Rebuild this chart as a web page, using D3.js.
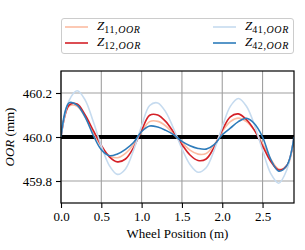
<!DOCTYPE html>
<html>
<head>
<meta charset="utf-8">
<script src="https://cdn.jsdelivr.net/npm/d3@7"></script>
<style>
  body { margin: 0; background: #fff; }
  text { font-family: "Liberation Serif", serif; }
</style>
</head>
<body>
<div id="graphic"></div>
<script>
const pos = [0.0, 0.1, 0.2, 0.3, 0.4, 0.5, 0.6, 0.7, 0.8, 0.9, 1.0, 1.1, 1.2, 1.3, 1.4,
    1.5, 1.6, 1.7, 1.8, 1.9, 2.0, 2.1, 2.2, 2.3, 2.4, 2.5, 2.6, 2.7, 2.8, 2.89]

const z11 = [460.00, 460.14, 460.14, 460.09, 460.02, 459.958, 459.915, 459.906, 459.926, 459.966,
    460.025, 460.07, 460.071, 460.05, 460.012, 459.975, 459.94, 459.922, 459.925, 459.965,
    460.025, 460.07, 460.086, 460.07, 460.03, 459.97, 459.90, 459.855, 459.865, 460.00]
const z12 = [460.00, 460.145, 460.15, 460.10, 460.03, 459.962, 459.91, 459.887, 459.90, 459.952,
    460.03, 460.099, 460.10, 460.07, 460.02, 459.966, 459.918, 459.893, 459.90, 459.954,
    460.031, 460.092, 460.105, 460.079, 460.03, 459.96, 459.89, 459.85, 459.87, 460.00]
const z41 = [460.00, 460.165, 460.21, 460.168, 460.07, 459.96, 459.87, 459.83, 459.855, 459.94,
    460.05, 460.143, 460.155, 460.113, 460.035, 459.947, 459.875, 459.84, 459.86, 459.94,
    460.045, 460.139, 460.175, 460.14, 460.054, 459.94, 459.835, 459.79, 459.85, 460.00]
const z42 = [460.00, 460.155, 460.145, 460.09, 460.008, 459.942, 459.915, 459.923, 459.944, 459.975,
    460.025, 460.05, 460.045, 460.03, 460.01, 459.98, 459.96, 459.948, 459.945, 459.965,
    460.01, 460.04, 460.07, 460.085, 460.06, 460.00, 459.90, 459.845, 459.87, 460.00]

const seriesNames = ["11", "12", "41", "42"]
const xTickVals = [0.0, 0.5, 1.0, 1.5, 2.0, 2.5]
const yTickVals = [459.8, 460.0, 460.2]

const margin = { top: 71, right: 11, bottom: 47, left: 61 },
    width = 305 - margin.left - margin.right,
    height = 250 - margin.top - margin.bottom;

const svg = d3.select("#graphic")
    .append("svg")
    .attr("width", 305)
    .attr("height", 250)

const g = svg.append("g")
    .attr("transform", `translate(${margin.left},${margin.top})`);

const x = d3.scaleLinear().domain([0, 2.89]).range([0, width])
const y = d3.scaleLinear().domain([459.7, 460.3]).range([height, 0])

// grid
g.append("g")
    .selectAll("line")
    .data(xTickVals)
    .join("line")
    .attr("x1", d => x(d)).attr("x2", d => x(d))
    .attr("y1", 0).attr("y2", height)
    .attr("stroke", "#a0a0a0")
    .attr("stroke-width", 1.1)
g.append("g")
    .selectAll("line")
    .data(yTickVals)
    .join("line")
    .attr("y1", d => y(d)).attr("y2", d => y(d))
    .attr("x1", 0).attr("x2", width)
    .attr("stroke", "#a0a0a0")
    .attr("stroke-width", 1.1)

g.append("defs").append("clipPath").attr("id", "clip")
    .append("rect").attr("width", width).attr("height", height)

const plot = g.append("g").attr("clip-path", "url(#clip)")

// reference line
plot.append("line")
    .attr("x1", 0).attr("x2", width)
    .attr("y1", y(460)).attr("y2", y(460))
    .attr("stroke", "#000")
    .attr("stroke-width", 4)

const color = d3.scaleOrdinal()
    .domain(seriesNames)
    .range(["#fcbba1", "#d42027", "#c6dbef", "#2d7bba"])

const values = { "11": z11, "12": z12, "41": z41, "42": z42 }

const line = d3.line()
    .x((d, i) => x(pos[i]))
    .y(d => y(d))
    .curve(d3.curveCatmullRom.alpha(0.5))

plot.selectAll(".series")
    .data(seriesNames)
    .join("path")
    .attr("class", "series")
    .attr("fill", "none")
    .attr("stroke", d => color(d))
    .attr("stroke-width", 1.6)
    .attr("d", d => line(values[d]))

// axes
const xAxis = g.append("g")
    .attr("transform", `translate(0, ${height})`)
    .call(d3.axisBottom(x).tickValues(xTickVals).tickFormat(d3.format(".1f")).tickSizeOuter(0).tickSize(5).tickPadding(4))
const yAxis = g.append("g")
    .call(d3.axisLeft(y).tickValues(yTickVals).tickFormat(d3.format(".1f")).tickSizeOuter(0).tickSize(5).tickPadding(4))

for (const ax of [xAxis, yAxis]) {
    ax.select(".domain").remove()
    ax.selectAll("line").attr("stroke", "#000").attr("stroke-width", 1.1)
    ax.selectAll("text")
        .attr("font-size", "13px")
        .attr("fill", "#000")
}

g.append("rect")
    .attr("width", width).attr("height", height)
    .attr("fill", "none")
    .attr("stroke", "#000")
    .attr("stroke-width", 1.2)

// axis labels
svg.append("text")
    .attr("x", margin.left + width / 2)
    .attr("y", 238)
    .attr("text-anchor", "middle")
    .attr("font-size", "13px")
    .text("Wheel Position (m)")

const yl = svg.append("text")
    .attr("transform", `translate(14, ${margin.top + height / 2}) rotate(-90)`)
    .attr("text-anchor", "middle")
    .attr("font-size", "13px")
yl.append("tspan").attr("font-style", "italic").text("OOR")
yl.append("tspan").text(" (mm)")

// legend
const legend = svg.append("g")
legend.append("rect")
    .attr("x", 61.5).attr("y", 18.5)
    .attr("width", 232).attr("height", 35)
    .attr("rx", 2.5)
    .attr("fill", "#fff")
    .attr("fill-opacity", 0.8)
    .attr("stroke", "#cccccc")
    .attr("stroke-width", 1)

const legPos = [[65, 27], [65, 43], [213, 27], [213, 43]]
seriesNames.forEach((name, i) => {
    const [lx, ly] = legPos[i]
    legend.append("line")
        .attr("x1", lx).attr("x2", lx + 23)
        .attr("y1", ly).attr("y2", ly)
        .attr("stroke", color(name))
        .attr("stroke-width", 1.6)
    const t = legend.append("text")
        .attr("x", lx + 32)
        .attr("y", ly + 3)
        .attr("font-size", "13px")
    t.append("tspan").attr("font-style", "italic").text("Z")
    const sub = t.append("tspan").attr("dy", 3).attr("font-size", "10px")
        .attr("letter-spacing", "0.6px")
    sub.append("tspan").text(name + ",")
    sub.append("tspan").attr("font-style", "italic").text("OOR")
})
</script>
</body>
</html>
